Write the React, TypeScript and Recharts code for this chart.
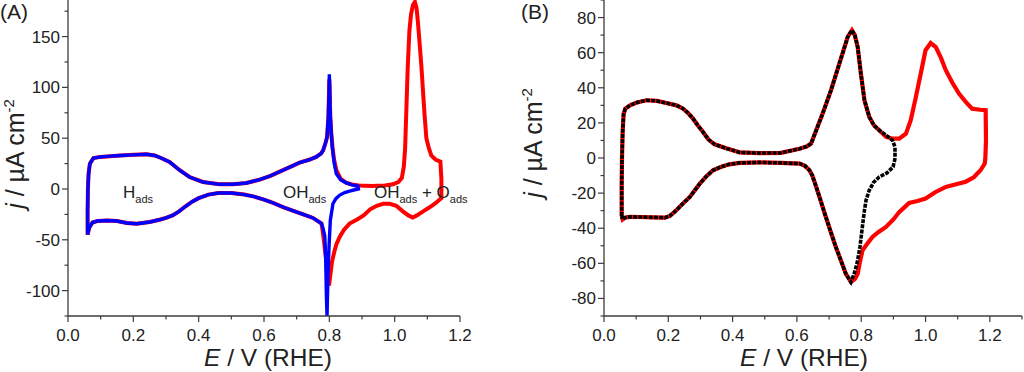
import React from "react";
import { LineChart, Line, XAxis, YAxis } from "recharts";

const AXIS = "#3c3c3c";
const TEXT = "#222";
const FONT = '"Liberation Sans", Arial, Helvetica, sans-serif';

// tick values
const aXMajor = [0, 0.2, 0.4, 0.6, 0.8, 1.0, 1.2];
const aXMinor = [0.1, 0.3, 0.5, 0.7, 0.9, 1.1];
const aYMajor = [-100, -50, 0, 50, 100, 150];
const aYMinor = [-125, -75, -25, 25, 75, 125, 175];
const bXMajor = [0, 0.2, 0.4, 0.6, 0.8, 1.0, 1.2];
const bXMinor = [0.1, 0.3, 0.5, 0.7, 0.9, 1.1, 1.3];
const bYMajor = [-80, -60, -40, -20, 0, 20, 40, 60, 80];
const bYMinor = [-90, -70, -50, -30, -10, 10, 30, 50, 70, 90];

// (A) [E / V, j / µA cm-2] — shared low-potential part of both scans
const aLowUp = [
  [0.060, -45], [0.060, -20], [0.061, 0], [0.063, 15], [0.067, 25], [0.078, 30.5],
  [0.100, 31.6], [0.130, 32.3], [0.160, 33], [0.200, 33.6], [0.240, 34.2], [0.265, 33],
  [0.285, 30.5], [0.311, 26.7], [0.342, 18.5], [0.372, 11.8], [0.413, 6.9], [0.464, 4.6],
  [0.505, 4.6], [0.546, 5.9], [0.587, 9.2], [0.620, 13], [0.658, 18.5], [0.689, 23],
  [0.709, 26], [0.740, 29], [0.760, 31.6], [0.775, 35],
];
const aLowDown = [
  [0.776, -34], [0.750, -28.5], [0.720, -25], [0.690, -21.5], [0.660, -18], [0.630, -14],
  [0.600, -10.5], [0.570, -7.5], [0.540, -5.5], [0.500, -4], [0.460, -4], [0.430, -5.5],
  [0.400, -9], [0.380, -12.5], [0.360, -17], [0.340, -22], [0.320, -26], [0.300, -28.5],
  [0.280, -30.3], [0.250, -32.5], [0.210, -34.2], [0.180, -33.5], [0.150, -31.5],
  [0.120, -31], [0.090, -31.5], [0.075, -33], [0.065, -38], [0.060, -45],
];
// blue scan, turning at 0.89 V
const aBlueHigh = [
  [0.781, 38], [0.788, 45], [0.793, 51], [0.797, 71], [0.799, 95], [0.800, 113],
  [0.801, 100], [0.803, 71], [0.806, 55], [0.809, 41.5], [0.815, 25], [0.8215, 15],
  [0.835, 9], [0.852, 6], [0.870, 4], [0.888, 2.7], [0.889, 0], [0.875, -1], [0.862, -2],
  [0.847, -3.5], [0.832, -6], [0.820, -9.5], [0.811, -14.5], [0.803, -31], [0.799, -57],
  [0.796, -83.5], [0.794, -110], [0.793, -125], [0.791, -105], [0.789, -70],
  [0.786, -46], [0.780, -38],
];
// red scan, turning at 1.14 V
const aRedHigh = [
  [0.781, 38], [0.788, 45], [0.793, 51], [0.797, 70], [0.799, 95], [0.800, 108],
  [0.801, 98], [0.803, 71], [0.806, 55], [0.810, 40], [0.815, 28], [0.822, 18],
  [0.835, 10], [0.852, 6], [0.870, 4.5], [0.890, 3.5], [0.930, 3], [0.970, 3.5],
  [0.995, 4.6], [1.012, 7], [1.022, 11], [1.028, 22], [1.032, 40], [1.036, 80],
  [1.040, 120], [1.045, 155], [1.050, 172], [1.056, 181], [1.062, 184], [1.067, 178],
  [1.071, 165], [1.076, 145], [1.082, 120], [1.087, 95], [1.092, 71], [1.097, 50],
  [1.104, 41], [1.112, 33], [1.125, 29], [1.140, 27], [1.143, 10], [1.143, -9],
  [1.125, -14], [1.107, -18], [1.087, -22], [1.068, -26], [1.055, -28], [1.042, -26],
  [1.025, -22], [1.005, -16.5], [0.985, -14.5], [0.965, -14.5], [0.945, -16.5],
  [0.925, -20], [0.905, -26], [0.885, -30], [0.862, -34], [0.845, -40], [0.832, -47],
  [0.822, -54], [0.815, -62], [0.808, -72], [0.803, -85], [0.799, -95], [0.795, -88],
  [0.791, -72], [0.786, -58], [0.780, -42],
];

// (B) shared part of both scans
const bLowUp = [
  [0.055, -33], [0.055, -15], [0.056, 0], [0.058, 15], [0.061, 25], [0.066, 28],
  [0.081, 30], [0.100, 31.5], [0.132, 32.9], [0.165, 32.5], [0.194, 31.3], [0.225, 30],
  [0.246, 28.1], [0.262, 25.5], [0.277, 22.4], [0.292, 18.5], [0.308, 14.8],
  [0.325, 10.5], [0.344, 7.8], [0.380, 5.5], [0.422, 3.2], [0.484, 2.8], [0.550, 2.9],
  [0.608, 5.3], [0.630, 6.5], [0.644, 8.2], [0.660, 15.8], [0.680, 25.3], [0.706, 38.6],
  [0.732, 53.8], [0.758, 69], [0.771, 72.8], [0.780, 70], [0.789, 63.2], [0.799, 48],
  [0.810, 32.9], [0.825, 23.4], [0.840, 18.5], [0.856, 15.8],
];
const bLowDown = [
  [0.768, -70.6], [0.752, -65.9], [0.736, -58], [0.721, -50.7], [0.705, -42],
  [0.690, -33.6], [0.675, -25], [0.660, -16.5], [0.648, -10], [0.639, -7], [0.625, -4.5],
  [0.608, -3.2], [0.550, -2.8], [0.484, -2.5], [0.422, -2.8], [0.390, -3.6],
  [0.365, -5], [0.339, -7], [0.318, -10.5], [0.298, -14.6], [0.282, -18.5],
  [0.267, -22.2], [0.245, -26], [0.225, -29.8], [0.205, -33], [0.189, -34],
  [0.150, -33.8], [0.112, -33.6], [0.080, -33.5], [0.065, -34], [0.058, -35], [0.055, -33],
];
const bRedHigh = [
  [0.877, 12], [0.900, 11], [0.918, 11], [0.939, 13.9], [0.954, 21.5], [0.970, 34.8],
  [0.985, 48], [1.000, 61.4], [1.016, 65.5], [1.032, 63.2], [1.048, 57], [1.063, 50],
  [1.083, 43], [1.104, 36.7], [1.125, 32], [1.145, 28.1], [1.170, 27.5], [1.187, 27.2],
  [1.188, 10], [1.186, 0], [1.184, -3.2], [1.171, -7], [1.150, -11], [1.125, -13.5],
  [1.095, -15], [1.063, -16.5], [1.030, -19.5], [1.000, -23.1], [0.975, -24.5],
  [0.949, -25.6], [0.935, -28], [0.918, -30.8], [0.900, -35], [0.877, -39.3],
  [0.855, -42], [0.835, -45], [0.818, -49], [0.804, -52.6], [0.795, -60], [0.789, -65.9],
  [0.780, -69],
];
const bBlackHigh = [
  [0.877, 13], [0.897, 10.1], [0.905, 6.3], [0.905, 0], [0.904, -1.3], [0.899, -5.1],
  [0.880, -8.5], [0.856, -10.8], [0.838, -14], [0.825, -18.4], [0.815, -24],
  [0.810, -29.8], [0.803, -40], [0.796, -50.7], [0.787, -60], [0.778, -65.9],
];

const pts = (...parts: number[][][]) => parts.flat().map(([E, j]) => ({ E, j }));

const aBlue = pts(aLowUp, aBlueHigh, aLowDown);
const aRed = pts(aLowUp, aRedHigh, aLowDown);
const bBlack = pts(bLowUp, bBlackHigh, bLowDown);
const bRed = pts(bLowUp, bRedHigh, bLowDown);

const isIn = (arr: number[], v: number) => arr.some((m) => Math.abs(m - v) < 1e-6);

const xTick = (majors: number[]) => (p: any) => {
  const v = p.payload.value as number;
  const major = isIn(majors, v);
  return (
    <g>
      <line x1={p.x} x2={p.x} y1={p.y} y2={p.y + (major ? 6 : 3.5)} stroke={AXIS} strokeWidth={1.2} />
      {major && (
        <text x={p.x} y={p.y + 25} textAnchor="middle" fontSize={17} fill={TEXT} fontFamily={FONT}>
          {v.toFixed(1)}
        </text>
      )}
    </g>
  );
};

const yTick = (majors: number[]) => (p: any) => {
  const v = p.payload.value as number;
  const major = isIn(majors, v);
  return (
    <g>
      <line x1={p.x - (major ? 6 : 3.5)} x2={p.x} y1={p.y} y2={p.y} stroke={AXIS} strokeWidth={1.2} />
      {major && (
        <text x={p.x - 8} y={p.y + 6} textAnchor="end" fontSize={17} fill={TEXT} fontFamily={FONT}>
          {v}
        </text>
      )}
    </g>
  );
};

const axisLine = { stroke: AXIS, strokeWidth: 1.3 };

export default function App() {
  return (
    <div style={{ position: "absolute", left: 0, top: 0, width: 1024, height: 372, background: "#fff" }}>
      <div style={{ position: "absolute", left: 0, top: 0 }}>
        <LineChart width={490} height={372} margin={{ top: 0, right: 30, bottom: 0, left: 0 }}>
          <XAxis
            type="number"
            dataKey="E"
            domain={[0, 1.2]}
            allowDataOverflow
            ticks={[...aXMajor, ...aXMinor].sort((a, b) => a - b)}
            interval={0}
            tickSize={0}
            tickMargin={0}
            tickLine={false}
            axisLine={axisLine}
            height={56}
            tick={xTick(aXMajor)}
          />
          <YAxis
            type="number"
            domain={[-125, 186]}
            allowDataOverflow
            ticks={[...aYMajor, ...aYMinor].sort((a, b) => a - b)}
            interval={0}
            tickSize={0}
            tickMargin={0}
            tickLine={false}
            axisLine={axisLine}
            width={68}
            tick={yTick(aYMajor)}
          />
          <Line data={aRed} dataKey="j" type="linear" stroke="#ff0000" strokeWidth={4} dot={false} activeDot={false} isAnimationActive={false} />
          <Line data={aBlue} dataKey="j" type="linear" stroke="#0000ff" strokeWidth={3.4} dot={false} activeDot={false} isAnimationActive={false} />
        </LineChart>
      </div>
      <div style={{ position: "absolute", left: 500, top: 0 }}>
        <LineChart width={524} height={372} margin={{ top: 0, right: 2, bottom: 0, left: 0 }}>
          <XAxis
            type="number"
            dataKey="E"
            domain={[0, 1.3]}
            allowDataOverflow
            ticks={[...bXMajor, ...bXMinor].sort((a, b) => a - b)}
            interval={0}
            tickSize={0}
            tickMargin={0}
            tickLine={false}
            axisLine={axisLine}
            height={56}
            tick={xTick(bXMajor)}
          />
          <YAxis
            type="number"
            domain={[-90, 90]}
            allowDataOverflow
            ticks={[...bYMajor, ...bYMinor].sort((a, b) => a - b)}
            interval={0}
            tickSize={0}
            tickMargin={0}
            tickLine={false}
            axisLine={axisLine}
            width={104}
            tick={yTick(bYMajor)}
          />
          <Line data={bRed} dataKey="j" type="linear" stroke="#ff0000" strokeWidth={4.2} dot={false} activeDot={false} isAnimationActive={false} />
          <Line data={bBlack} dataKey="j" type="linear" stroke="#000" strokeWidth={3.6} strokeDasharray="4 1.2" dot={false} activeDot={false} isAnimationActive={false} />
        </LineChart>
      </div>
      {/* titles and annotations */}
      <svg width={1024} height={372} style={{ position: "absolute", left: 0, top: 0, pointerEvents: "none" }} fontFamily={FONT} fill={TEXT}>
        <text x={0} y={19} fontSize={21}>(A)</text>
        <text x={521} y={19} fontSize={21}>(B)</text>

        <text x={268} y={366} fontSize={24.5} textAnchor="middle">
          <tspan fontStyle="italic">E</tspan> / V (RHE)
        </text>
        <text x={804} y={366} fontSize={24.5} textAnchor="middle">
          <tspan fontStyle="italic">E</tspan> / V (RHE)
        </text>

        <text transform="translate(24,154) rotate(-90)" fontSize={25} textAnchor="middle">
          <tspan fontStyle="italic">j</tspan> / µA cm<tspan dy={-10} fontSize={15}>-2</tspan>
        </text>
        <text transform="translate(542,143) rotate(-90)" fontSize={25} textAnchor="middle">
          <tspan fontStyle="italic">j</tspan> / µA cm<tspan dy={-10} fontSize={15}>-2</tspan>
        </text>

        <text x={123} y={198} fontSize={17}>
          H<tspan dy={5} fontSize={11}>ads</tspan>
        </text>
        <text x={283} y={198} fontSize={17}>
          OH<tspan dy={5} fontSize={11}>ads</tspan>
        </text>
        <text x={374} y={198} fontSize={17}>
          OH<tspan dy={5} fontSize={11}>ads</tspan>
          <tspan dy={-5}> + O</tspan>
          <tspan dy={5} fontSize={11}>ads</tspan>
        </text>
      </svg>
    </div>
  );
}
